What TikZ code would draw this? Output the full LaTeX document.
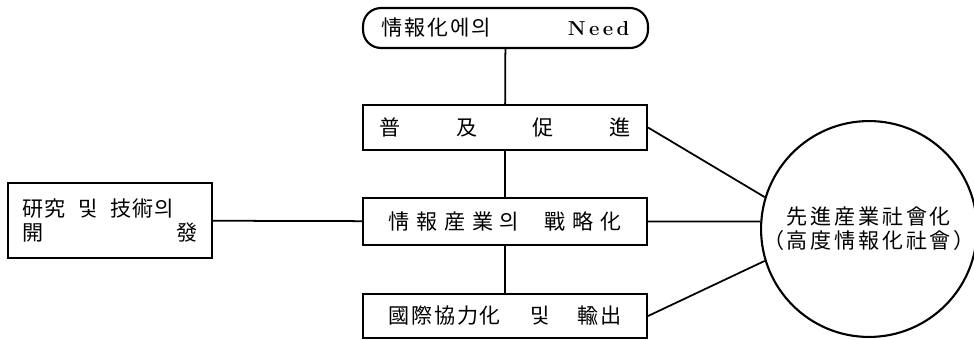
\documentclass[tikz,border=0pt]{standalone}
\usepackage{fontspec}
\usepackage{tikz}
\newfontfamily\kr{Noto Sans CJK KR}

\begin{document}
\begin{tikzpicture}[x=0.02cm, y=-0.02cm, line width=1pt,
	box/.style={shape=rectangle, draw=black, line width=1.2pt, minimum width=5.68cm, inner sep=0pt, font=\kr\fontsize{12}{14}\selectfont}]
	\useasboundingbox (0, 0) rectangle (974, 339);

	\node[box, rounded corners=0.36cm, minimum width=5.7cm, minimum height=0.8cm, text width=4.95cm] (a) at (505.5, 28) {\addfontfeature{LetterSpace=8}情報化에의\hfill{\rmfamily\bfseries\fontsize{11.5}{14}\selectfont N\,e\,e\,d}};
	\node[box, minimum height=0.9cm, text width=5.02cm] (b) at (505, 127.5) {普\hfill{}及\hfill{}促\hfill{}進};
	\node[box, minimum height=0.94cm] (c) at (505, 221.5) {\addfontfeature{LetterSpace=32}情報産業의\hspace{1.2em}戰略化};
	\node[box, minimum height=0.88cm] (d) at (505, 316) {\addfontfeature{LetterSpace=8}國際協力化\hspace{1.4em}및\hspace{1.3em}輸出};

	\node[box, minimum width=4.08cm, minimum height=1.5cm, text width=3.5cm, align=left] (e) at (110, 220.5) {\addfontfeature{LetterSpace=4}研究\hspace{0.6em}및\hspace{0.6em}技術의\\開\hfill{}發};

	\node[shape=circle, draw=black, line width=1.2pt, minimum size=4.12cm, inner sep=0pt, align=center, font=\kr\fontsize{12}{13.6}\selectfont\addfontfeature{LetterSpace=13}] (f) at (869, 229) {先進産業社會化\\（高度情報化社會）};

	\path[-] (a) edge (b);
	\path[-] (b) edge (c);
	\path[-] (c) edge (d);
	\path[-] (e) edge (c);
	\path[-] (b.east) edge (f.163);
	\path[-] (c.east) edge (f.176);
	\path[-] (d.east) edge (f.197);

\end{tikzpicture}
\end{document}
